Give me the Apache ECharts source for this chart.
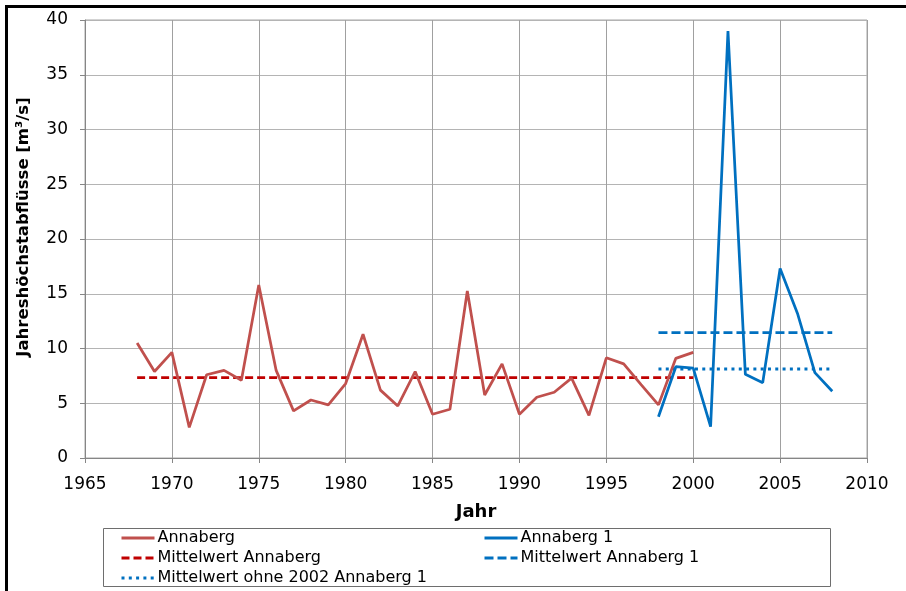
<!DOCTYPE html>
<html>
<head>
<meta charset="utf-8">
<title>Jahreshöchstabflüsse Annaberg</title>
<script src="https://cdn.jsdelivr.net/npm/echarts@6/dist/echarts.min.js"></script>
<style>
  html, body { margin: 0; padding: 0; background: #fff; }
  #main { width: 906px; height: 591px; }
</style>
</head>
<body>
<div id="main"></div>
<script>
// Jahreshöchstabflüsse [m³/s]
var jahreAnnaberg = [1968, 1969, 1970, 1971, 1972, 1973, 1974, 1975, 1976, 1977, 1978,
    1979, 1980, 1981, 1982, 1983, 1984, 1985, 1986, 1987, 1988, 1989, 1990, 1991,
    1992, 1993, 1994, 1995, 1996, 1997, 1998, 1999, 2000];
var annaberg = [10.5, 7.9, 9.65, 2.8, 7.6, 8.0, 7.1, 15.8, 8.0, 4.3, 5.3,
    4.85, 6.8, 11.3, 6.2, 4.75, 7.9, 4.0, 4.45, 15.25, 5.75, 8.6, 4.0, 5.55,
    6.0, 7.3, 3.9, 9.15, 8.6, 6.7, 4.85, 9.1, 9.65];

var jahreAnnaberg1 = [1998, 1999, 2000, 2001, 2002, 2003, 2004, 2005, 2006, 2007, 2008];
var annaberg1 = [3.77, 8.34, 8.2, 2.86, 39.0, 7.64, 6.88, 17.3, 13.2, 7.8, 6.1];

var mittelAnnaberg = 7.33;
var mittelAnnaberg1 = 11.45;
var mittelOhne2002 = 8.13;

var xTicks = { min: 1965, max: 2010, step: 5 };
var yTicks = { min: 0, max: 40, step: 5 };

// Legendenspalten
var legendeLinks = ['Annaberg', 'Mittelwert Annaberg', 'Mittelwert ohne 2002 Annaberg 1'];
var legendeRechts = ['Annaberg 1', 'Mittelwert Annaberg 1'];

function paare(xs, ys) {
    var out = [];
    for (var i = 0; i < xs.length; i++) out.push([xs[i], ys[i]]);
    return out;
}
function mittelLinie(xs, wert) {
    return [[xs[0], wert], [xs[xs.length - 1], wert]];
}

var schrift = 'DejaVu Sans';
var myChart = echarts.init(document.getElementById('main'));

function legende(left, daten) {
    return {
        orient: 'vertical',
        left: left, top: 530,
        padding: 0,
        itemWidth: 33, itemHeight: 14,
        itemGap: 4,
        itemStyle: { opacity: 0 },
        lineStyle: { width: 3 },
        textStyle: { fontFamily: schrift, fontSize: 16, color: '#000', padding: [0, 0, 0, -2] },
        data: daten
    };
}

var option = {
    animation: false,
    backgroundColor: '#ffffff',
    textStyle: { fontFamily: schrift },
    grid: {
        left: 85, right: 39, top: 20, bottom: 133,
        show: true, borderColor: '#a6a6a6', borderWidth: 1
    },
    graphic: [
        // äußerer Diagrammrahmen (angeschnitten)
        { type: 'rect', shape: { x: 6.5, y: 6.5, width: 1000, height: 1000 },
          style: { fill: 'none', stroke: '#000', lineWidth: 3 }, silent: true },
        // Legendenrahmen
        { type: 'rect', shape: { x: 103.5, y: 528.5, width: 727, height: 58 },
          style: { fill: 'none', stroke: '#6e6e6e', lineWidth: 1 }, silent: true }
    ],
    legend: [legende(120, legendeLinks), legende(483, legendeRechts)],
    xAxis: {
        type: 'value',
        min: xTicks.min, max: xTicks.max, interval: xTicks.step,
        name: 'Jahr',
        nameLocation: 'middle',
        nameGap: 45,
        nameTextStyle: { fontFamily: schrift, fontSize: 18, fontWeight: 'bold', color: '#000' },
        axisLine: { lineStyle: { color: '#868686' } },
        axisTick: { show: true, length: 5, lineStyle: { color: '#868686' } },
        axisLabel: { margin: 18, fontSize: 17, color: '#000', fontFamily: schrift,
                     formatter: function (v) { return String(v); } },
        splitLine: { show: true, lineStyle: { color: '#a0a0a0', width: 1 } }
    },
    yAxis: {
        type: 'value',
        min: yTicks.min, max: yTicks.max, interval: yTicks.step,
        name: 'Jahreshöchstabflüsse [m³/s]',
        nameLocation: 'middle',
        nameGap: 53,
        nameTextStyle: { fontFamily: schrift, fontSize: 16.5, fontWeight: 'bold', color: '#000',
                         padding: [0, 0, 0, 24] },
        axisLine: { show: true, lineStyle: { color: '#868686' } },
        axisTick: { show: true, length: 5, lineStyle: { color: '#868686' } },
        axisLabel: { margin: 17, fontSize: 17, color: '#000', fontFamily: schrift },
        splitLine: { show: true, lineStyle: { color: '#b4b4b4', width: 1 } }
    },
    series: [
        {
            name: 'Annaberg', type: 'line', symbol: 'none',
            data: paare(jahreAnnaberg, annaberg),
            lineStyle: { color: '#c0504d', width: 2.75 },
            itemStyle: { color: '#c0504d' }, z: 3
        },
        {
            name: 'Annaberg 1', type: 'line', symbol: 'none',
            data: paare(jahreAnnaberg1, annaberg1),
            lineStyle: { color: '#0070c0', width: 2.75 },
            itemStyle: { color: '#0070c0' }, z: 4
        },
        {
            name: 'Mittelwert Annaberg', type: 'line', symbol: 'none',
            data: mittelLinie(jahreAnnaberg, mittelAnnaberg),
            lineStyle: { color: '#c00000', width: 2.75, type: [8, 4] },
            itemStyle: { color: '#c00000' }, z: 2
        },
        {
            name: 'Mittelwert Annaberg 1', type: 'line', symbol: 'none',
            data: mittelLinie(jahreAnnaberg1, mittelAnnaberg1),
            lineStyle: { color: '#0070c0', width: 2.75, type: [9, 4] },
            itemStyle: { color: '#0070c0' }, z: 2
        },
        {
            name: 'Mittelwert ohne 2002 Annaberg 1', type: 'line', symbol: 'none',
            data: mittelLinie(jahreAnnaberg1, mittelOhne2002),
            lineStyle: { color: '#0070c0', width: 3, type: [3, 4.3] },
            itemStyle: { color: '#0070c0' }, z: 2
        }
    ]
};

myChart.setOption(option);
</script>
</body>
</html>
